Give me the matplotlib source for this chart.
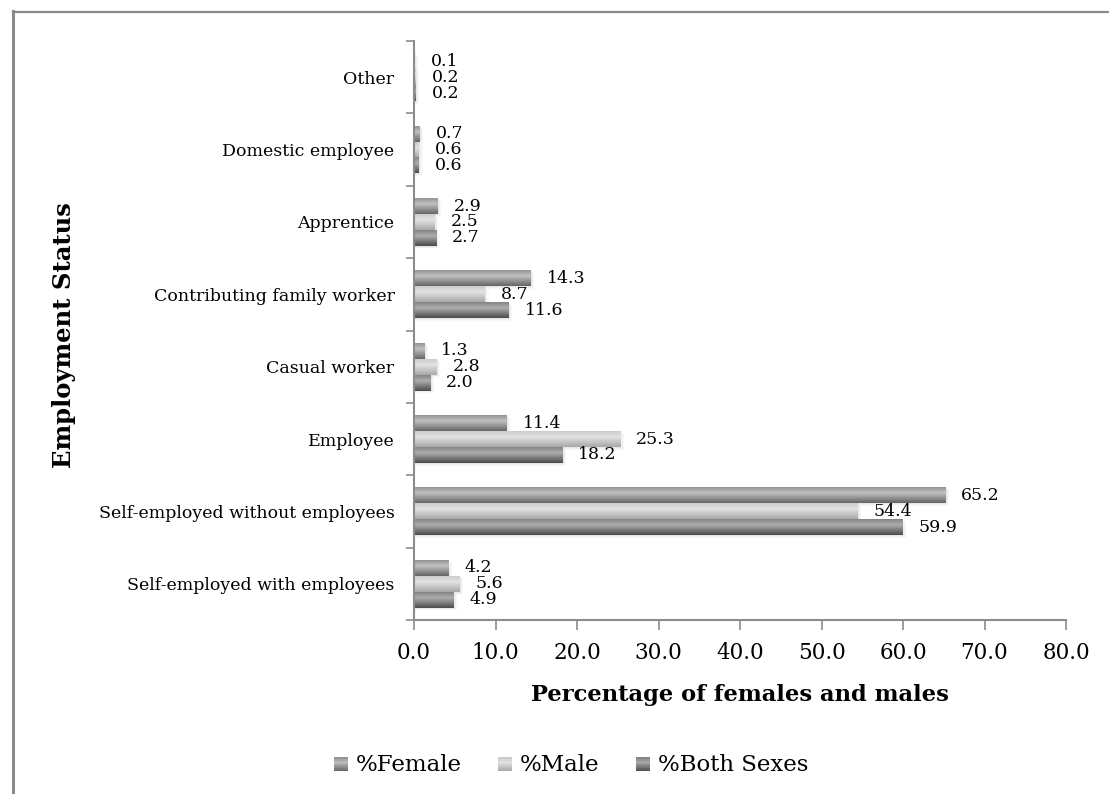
import numpy as np
import matplotlib.pyplot as plt
from matplotlib.patches import Rectangle
from matplotlib.lines import Line2D
from matplotlib.legend_handler import HandlerBase

plt.rcParams['font.family'] = ['DejaVu Serif']

categories = ['Self-employed with employees', 'Self-employed without employees',
              'Employee', 'Casual worker', 'Contributing family worker',
              'Apprentice', 'Domestic employee', 'Other']
female = [4.2, 65.2, 11.4, 1.3, 14.3, 2.9, 0.7, 0.1]
male = [5.6, 54.4, 25.3, 2.8, 8.7, 2.5, 0.6, 0.2]
both = [4.9, 59.9, 18.2, 2.0, 11.6, 2.7, 0.6, 0.2]
series_names = ['%Female', '%Male', '%Both Sexes']
xticks = np.arange(0, 81, 10)

# (top, middle, bottom) greys for the cylinder-like shading of each series
shades = [((0.58, 0.58, 0.58), (0.76, 0.76, 0.76), (0.40, 0.40, 0.40)),
          ((0.80, 0.80, 0.80), (0.89, 0.89, 0.89), (0.66, 0.66, 0.66)),
          ((0.52, 0.52, 0.52), (0.68, 0.68, 0.68), (0.30, 0.30, 0.30))]


def gradient(top, mid, bot, n=32):
    t = np.linspace(0, 1, n)
    cols = np.empty((n, 1, 3))
    for k in range(3):
        cols[:, 0, k] = np.interp(t, [0, 0.35, 1], [top[k], mid[k], bot[k]])
    return cols


fig = plt.figure(figsize=(11.09, 7.94), dpi=100)
ax = fig.add_axes([414 / 1109, 1 - 620 / 794, 652 / 1109, 579 / 794])

y = np.arange(len(categories))
h = 0.22
offsets = [h, 0, -h]
for vals, off, sh in zip([female, male, both], offsets, shades):
    bars = ax.barh(y + off, vals, height=h, color='none', edgecolor='none')
    img = gradient(*sh)
    for b, v in zip(bars, vals):
        x0, y0 = b.get_x(), b.get_y()
        w, hh = b.get_width(), b.get_height()
        # soft drop shadow
        for k, a in enumerate([0.25, 0.18, 0.12]):
            d = 0.15 * (k + 1)
            ax.add_patch(Rectangle((x0, y0 - 0.012 * (k + 1)), w + d, hh,
                                   facecolor='0.8', edgecolor='none', alpha=a,
                                   zorder=1))
        ax.imshow(img, extent=[x0, x0 + w, y0, y0 + hh], aspect='auto',
                  origin='upper', zorder=2, interpolation='bilinear')
        ax.annotate(f'{v:.1f}', (x0 + w, y0 + hh / 2), xytext=(11.5, 0),
                    textcoords='offset points', ha='left', va='center',
                    fontsize=12.5, zorder=3)

ax.set_xlim(0, 80)
ax.set_ylim(-0.5, len(categories) - 0.5)
ax.set_xticks(xticks)
ax.set_xticklabels([f'{v:.1f}' for v in xticks], fontsize=15.5)
ax.set_yticks(y)
ax.set_yticklabels(categories, fontsize=12.5)
ax.set_yticks(np.arange(-0.5, len(categories), 1), minor=True)
ax.tick_params(axis='y', which='major', length=0, pad=14)
ax.tick_params(axis='y', which='minor', length=6, width=1.2, color='#8c8c8c')
ax.tick_params(axis='x', length=7, width=1.2, color='#8c8c8c', pad=9)
for s in ['top', 'right']:
    ax.spines[s].set_visible(False)
for s in ['left', 'bottom']:
    ax.spines[s].set_color('#8c8c8c')
    ax.spines[s].set_linewidth(1.5)

ax.set_xlabel('Percentage of females and males', fontsize=16.3, fontweight='bold',
              labelpad=14)
fig.text(64 / 1109, 1 - 335 / 794, 'Employment Status', rotation=90,
         fontsize=17.5, fontweight='bold', ha='center', va='center')


class GradHandler(HandlerBase):
    def __init__(self, sh):
        super().__init__()
        self.sh = sh

    def create_artists(self, legend, orig_handle, xd, yd, width, height,
                       fontsize, trans):
        top, mid, bot = self.sh
        arts = []
        n = 8
        s = width
        y0 = yd + (height - s) / 2 - 1
        for i in range(n):
            t = i / (n - 1)
            c = np.interp(t, [0, 0.35, 1], [top[0], mid[0], bot[0]])
            r = Rectangle((xd, y0 + s - (i + 1) * s / n), s, s / n,
                          facecolor=(c, c, c), edgecolor='none', transform=trans)
            arts.append(r)
        return arts


handles = [Line2D([], []) for _ in series_names]
fig.legend(handles, series_names, loc='center', bbox_to_anchor=(0.515, 1 - 765 / 794),
           ncol=3, frameon=False, fontsize=16.5, handlelength=0.6,
           handletextpad=0.35, columnspacing=1.6,
           handler_map={hd: GradHandler(sh) for hd, sh in zip(handles, shades)})

# chart border (left and top edges)
fig.add_artist(Line2D([12.5 / 1109, 12.5 / 1109], [0, 1 - 11 / 794], color='#8a8a8a',
                      lw=2.2, transform=fig.transFigure))
fig.add_artist(Line2D([12.5 / 1109, 1], [1 - 11.5 / 794, 1 - 11.5 / 794], color='#8a8a8a',
                      lw=1.6, transform=fig.transFigure))

fig.savefig('out.png', dpi=100)
